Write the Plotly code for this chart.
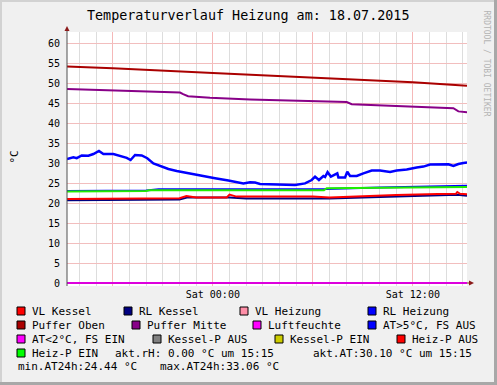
import plotly.graph_objects as go

# ---------------- data ----------------
d1, d2 = "2015-07-17 ", "2015-07-18 "
x_start, x_end = d1 + "15:15", d2 + "15:15"

at_times = [d1 + t for t in ["15:15", "15:38", "15:50", "16:08", "16:32", "16:50", "17:10", "17:26", "18:02",
                             "18:26", "18:50", "19:04", "19:20", "19:44", "20:04", "20:26", "20:50", "21:20",
                             "21:50", "22:26", "22:50", "23:14", "23:32"]] + \
           [d2 + t for t in ["00:08", "00:56", "01:50", "02:14", "02:32", "02:50", "03:56", "04:56", "05:32",
                             "05:56", "06:08", "06:22", "06:38", "06:44", "06:53", "07:05", "07:28", "07:32",
                             "07:56", "08:04", "08:14", "08:38", "09:02", "09:32", "10:02", "10:38", "11:02",
                             "11:38", "12:14", "12:38", "13:02", "13:38", "14:08", "14:26", "14:44", "15:02",
                             "15:15"]]
at_values = [31.0, 31.4, 31.2, 31.9, 31.8, 32.25, 33.0, 32.25, 32.25,
             31.75, 31.3, 30.75, 32.0, 31.9, 31.2, 29.9, 29.25, 28.5,
             28.0, 27.5, 27.2, 26.8, 26.6,
             26.2, 25.6, 24.9, 25.2, 25.1, 24.75, 24.7, 24.5, 24.9,
             25.75, 26.6, 25.75, 26.75, 26.5, 27.7, 26.6, 27.4, 26.4,
             26.4, 27.8, 26.75, 26.75, 27.4, 28.1, 28.1, 27.75, 28.1,
             28.4, 28.9, 29.1, 29.6, 29.75, 29.7, 29.25, 29.75, 30.0,
             30.1]

po_times = [d1 + "15:15", d1 + "18:00", d2 + "00:00", d2 + "06:00", d2 + "12:00", d2 + "15:15"]
po_values = [54.1, 53.7, 52.5, 51.3, 50.2, 49.3]

pm_times = [d1 + "15:15", d1 + "18:00", d1 + "22:02", d1 + "22:13", d1 + "22:31", d1 + "23:50",
            d2 + "02:14", d2 + "08:02", d2 + "08:20", d2 + "14:26", d2 + "14:44", d2 + "15:15"]
pm_values = [48.5, 48.1, 47.6, 47.2, 46.7, 46.3, 45.9, 45.25, 44.7, 43.7, 42.9, 42.7]

rlh_times = [d1 + "15:15", d1 + "20:00", d1 + "20:45", d2 + "06:45", d2 + "10:00", d2 + "13:00", d2 + "15:15"]
rlh_values = [23.0, 23.1, 23.45, 23.5, 23.9, 24.2, 24.3]

gr_times = [d1 + "15:15", d1 + "20:00", d1 + "20:10", d2 + "06:40", d2 + "06:50", d2 + "10:00",
            d2 + "13:00", d2 + "15:15"]
gr_values = [22.9, 23.0, 23.2, 23.2, 23.7, 23.8, 24.0, 24.0]

vk_times = [d1 + "15:15", d1 + "22:00", d1 + "22:25", d1 + "22:40", d1 + "23:00", d2 + "00:50", d2 + "01:00",
            d2 + "01:25", d2 + "06:00", d2 + "07:00", d2 + "09:00", d2 + "11:00", d2 + "13:30", d2 + "14:35",
            d2 + "14:40", d2 + "14:50", d2 + "15:15"]
vk_values = [21.0, 21.2, 21.75, 21.6, 21.4, 21.4, 22.1, 21.6, 21.6, 21.4, 21.75, 22.0, 22.25, 22.3,
             22.75, 22.3, 22.2]

rk_times = [d1 + "15:15", d1 + "22:00", d1 + "22:30", d2 + "00:00", d2 + "01:00", d2 + "02:00", d2 + "07:00",
            d2 + "09:00", d2 + "11:00", d2 + "13:30", d2 + "14:40", d2 + "15:15"]
rk_values = [20.7, 20.9, 21.4, 21.3, 21.4, 21.1, 21.1, 21.4, 21.6, 21.75, 22.05, 21.8]

lf_times = [x_start, x_end]
lf_values = [0.0, 0.0]

x_tickvals = [d1 + "18:00", d2 + "00:00", d2 + "06:00", d2 + "12:00"]
x_ticktext = ["", "Sat 00:00", "", "Sat 12:00"]
y_tickvals = list(range(0, 61, 5))

title_text = "Temperaturverlauf Heizung am: 18.07.2015"
legend_rows = [
    [("VL Kessel", "#FF0000"), ("RL Kessel", "#000080"), ("VL Heizung", "#FF8FA8"), ("RL Heizung", "#0000FF")],
    [("Puffer Oben", "#AA0000"), ("Puffer Mitte", "#880088"), ("Luftfeuchte", "#FF00FF"),
     ("AT>5°C, FS AUS", "#0000FF")],
    [("AT<2°C, FS EIN", "#FF00FF"), ("Kessel-P AUS", "#808080"), ("Kessel-P EIN", "#CCCC00"),
     ("Heiz-P AUS", "#FF0000")],
    [("Heiz-P EIN", "#00FF00")],
]
info_row4 = ["akt.rH: 0.00 °C um 15:15", "akt.AT:30.10 °C um 15:15"]
info_row5 = ["min.AT24h:24.44 °C", "max.AT24h:33.06 °C"]

# ---------------- layout geometry (pixels) ----------------
W, H = 497, 385
L, T, R, B = 67, 32, 467, 286
FONT = "DejaVu Sans Mono"


def px(x):
    return (x - L) / (R - L)


def py(y):
    return (B - y) / (B - T)


fig = go.Figure()


def add_line(xs, ys, color, width=2):
    fig.add_trace(go.Scatter(x=xs, y=ys, mode="lines", line=dict(color=color, width=width),
                             showlegend=False, hoverinfo="skip"))


add_line(lf_times, lf_values, "#DD00DD")
add_line(rk_times, rk_values, "#000080")
add_line(vk_times, vk_values, "#FF0000")
add_line(rlh_times, rlh_values, "#0000FF")
add_line(gr_times, gr_values, "#22EE00")
add_line(at_times, at_values, "#0000FF", 2.5)
add_line(pm_times, pm_values, "#880088")
add_line(po_times, po_values, "#AA0000")

shapes = []
annotations = []

# frame
shapes.append(dict(type="rect", xref="paper", yref="paper", x0=px(0), x1=px(W), y0=py(2), y1=py(0),
                   line=dict(width=0), fillcolor="#D2D2D2", layer="below"))
shapes.append(dict(type="rect", xref="paper", yref="paper", x0=px(0), x1=px(2), y0=py(H), y1=py(0),
                   line=dict(width=0), fillcolor="#D2D2D2", layer="below"))
shapes.append(dict(type="rect", xref="paper", yref="paper", x0=px(W - 3), x1=px(W), y0=py(H), y1=py(0),
                   line=dict(width=0), fillcolor="#A8A8A8", layer="below"))
shapes.append(dict(type="rect", xref="paper", yref="paper", x0=px(0), x1=px(W), y0=py(H), y1=py(H - 3),
                   line=dict(width=0), fillcolor="#A8A8A8", layer="below"))

# y axis line + arrows
shapes.append(dict(type="line", xref="paper", yref="paper", x0=px(67), x1=px(67), y0=py(286), y1=py(29),
                   line=dict(color="#505050", width=1)))
shapes.append(dict(type="path", xref="paper", yref="paper",
                   path=f"M {px(64.5)} {py(31)} L {px(69.5)} {py(31)} L {px(67)} {py(26)} Z",
                   fillcolor="#8B1A1A", line=dict(width=0)))
shapes.append(dict(type="path", xref="paper", yref="paper",
                   path=f"M {px(469)} {py(280.5)} L {px(469)} {py(285.5)} L {px(474)} {py(283)} Z",
                   fillcolor="#8B1A1A", line=dict(width=0)))
shapes.append(dict(type="line", xref="paper", yref="paper", x0=px(467), x1=px(469), y0=py(283), y1=py(283),
                   line=dict(color="#8B1A1A", width=1)))

# legend
row_y = [311, 325, 339, 353, 367]
row_text_x = [[31, 138, 254, 382], [31, 146, 267, 382], [31, 167, 289, 411], [31]]
for r, items in enumerate(legend_rows):
    for (name, col), tx in zip(items, row_text_x[r]):
        sx = tx - 14
        shapes.append(dict(type="rect", xref="paper", yref="paper", x0=px(sx), x1=px(sx + 8),
                           y0=py(row_y[r] + 4), y1=py(row_y[r] - 4), fillcolor=col,
                           line=dict(color="#000000", width=1)))
        annotations.append(dict(x=px(tx - 1), y=py(row_y[r]), xref="paper", yref="paper", text=name,
                                showarrow=False, xanchor="left", yanchor="middle",
                                font=dict(family=FONT, size=11, color="#000000")))
for txt, tx in zip(info_row4, [113, 311]):
    annotations.append(dict(x=px(tx), y=py(row_y[3]), xref="paper", yref="paper", text=txt,
                            showarrow=False, xanchor="left", yanchor="middle",
                            font=dict(family=FONT, size=11, color="#000000")))
for txt, tx in zip(info_row5, [16, 158]):
    annotations.append(dict(x=px(tx), y=py(row_y[4]), xref="paper", yref="paper", text=txt,
                            showarrow=False, xanchor="left", yanchor="middle",
                            font=dict(family=FONT, size=11, color="#000000")))

# title, axis title, watermark
annotations.append(dict(x=px(248), y=py(16), xref="paper", yref="paper", text=title_text, showarrow=False,
                        xanchor="center", yanchor="middle", font=dict(family=FONT, size=13.4, color="#000000")))
annotations.append(dict(x=px(13.5), y=py(157), xref="paper", yref="paper", text="°C", showarrow=False,
                        textangle=-90, xanchor="center", yanchor="middle",
                        font=dict(family=FONT, size=11, color="#000000")))
annotations.append(dict(x=px(486.5), y=py(63), xref="paper", yref="paper", text="RRDTOOL / TOBI OETIKER",
                        showarrow=False, textangle=90, xanchor="center", yanchor="middle",
                        font=dict(family=FONT, size=8, color="#B4B4B4")))

fig.update_layout(
    width=W, height=H,
    margin=dict(l=L, r=W - R, t=T, b=H - B, pad=0),
    paper_bgcolor="#F0F0F0", plot_bgcolor="#FFFFFF",
    showlegend=False,
    shapes=shapes, annotations=annotations,
    xaxis=dict(type="date", range=[x_start, x_end], tickmode="array", tickvals=x_tickvals,
               ticktext=x_ticktext, showgrid=True, gridcolor="#F5B8B8", gridwidth=1,
               ticks="", showline=False, zeroline=False,
               tickfont=dict(family=FONT, size=10, color="#000000"), ticklabelstandoff=1,
               minor=dict(dtick=3600000, tick0=d1 + "16:00", showgrid=True, gridcolor="#DDDDDD",
                          gridwidth=1)),
    yaxis=dict(range=[-0.75, 62.75], tickmode="array", tickvals=y_tickvals, showgrid=True,
               gridcolor="#F2BEBE", gridwidth=1, zeroline=True, zerolinecolor="#505050",
               zerolinewidth=1, showline=False, ticks="", ticklabelstandoff=6,
               tickfont=dict(family=FONT, size=10, color="#000000")),
)

fig.write_html("out.html", config={"displayModeBar": False, "staticPlot": True},
               post_script="document.body.style.margin='0';document.body.style.padding='0';")
